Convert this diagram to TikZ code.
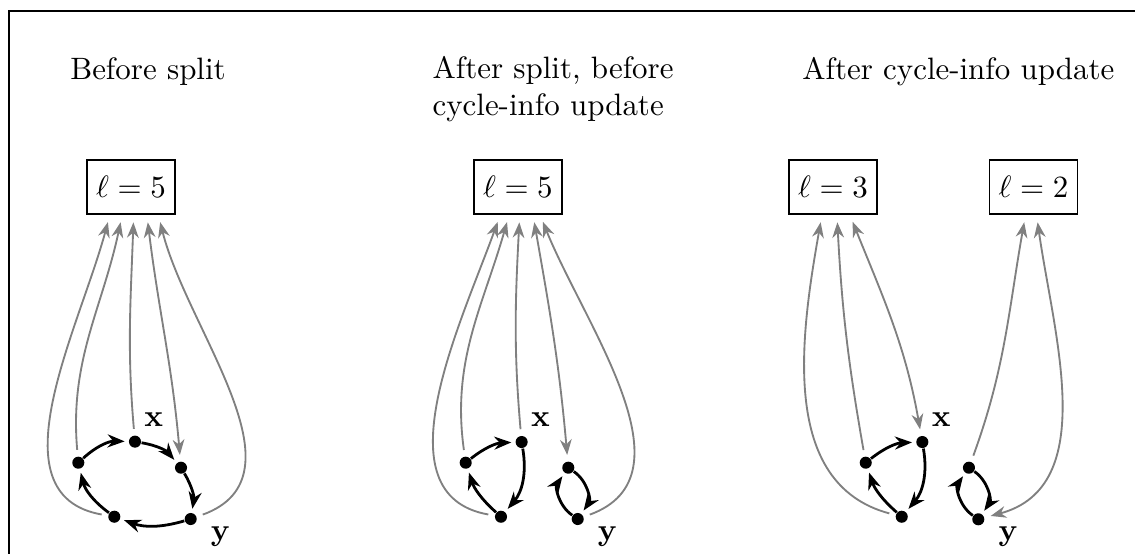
\documentclass[tikz,border=0pt]{standalone}
\usepackage{amsmath,amssymb}
\usetikzlibrary{arrows.meta,positioning}

\begin{document}
\begin{tikzpicture}[
  lenbox/.style={draw, line width=0.5pt, minimum width=1cm, minimum height=0.61cm,
    inner sep=0pt},
  dot/.style={circle, fill, inner sep=0pt, minimum size=3.9pt},
  cyc/.style={-{Stealth[length=5.5pt,width=4.2pt]}, line width=0.9pt, shorten >=1.2pt},
  ptr/.style={-{Stealth[length=5pt,width=3.8pt]}, semithick, draw=gray,
    shorten >=2.5pt, shorten <=2pt},
  both/.style={{Stealth[length=5pt,width=3.8pt]}-{Stealth[length=5pt,width=3.8pt]}},
  title/.style={inner sep=0pt, align=left}
]
  \useasboundingbox (0,0) rectangle (12.898,-6.295);
  \draw[line width=0.8pt] (0.102,-6.295) -- (0.102,-0.125) -- (12.898,-0.125);

  % headings
  \node[title] (t1) at (1.682,-0.818) {Before split};
  \node[title, anchor=west] (t2) at (4.909,-1.017) {After split, before\\cycle-info update};
  \node[title, anchor=east] (t3) at (12.67,-0.818) {After cycle-info update};

  % cycle length boxes
  \node[lenbox] (len1) at (1.489,-2.125) {$\ell = 5$};
  \node[lenbox] (len2) at (5.886,-2.125) {$\ell = 5$};
  \node[lenbox] (len3) at (9.466,-2.125) {$\ell = 3$};
  \node[lenbox] (len4) at (11.744,-2.125) {$\ell = 2$};

  % before split
  \node[dot] (v1a) at (0.890,-5.258) {};
  \node[dot] (x1)  at (1.534,-5.019) {};
  \node[dot] (v1b) at (2.057,-5.315) {};
  \node[dot] (y1)  at (2.167,-5.898) {};
  \node[dot] (v1c) at (1.299,-5.872) {};
  \node[above right=0pt and -2pt of x1] (x1l) {$\mathbf{x}$};
  \node[below right=-2.5pt and 1.5pt of y1] (y1l) {$\mathbf{y}$};

  \draw[cyc] (v1a) to[bend left=22] (x1);
  \draw[cyc] (x1) to[bend left=20] (v1b);
  \draw[cyc] (v1b) to[bend left=20] (y1);
  \draw[cyc] (y1) to[bend left=18] (v1c);
  \draw[cyc] (v1c) to[bend left=20] (v1a);

  \draw[ptr] (v1c) to[out=170, in=-105] ([xshift=-0.24cm]len1.south);
  \draw[ptr] (v1a) to[out=95, in=-102] ([xshift=-0.10cm]len1.south);
  \draw[ptr] (x1) to[out=95, in=-92] ([xshift=0.03cm]len1.south);
  \draw[ptr, both] (v1b) to[out=95, in=-83] ([xshift=0.18cm]len1.south);
  \draw[ptr] (y1) to[out=20, in=-76] ([xshift=0.31cm]len1.south);

  % after split
  \node[dot] (v2a) at (5.292,-5.258) {};
  \node[dot] (x2)  at (5.928,-5.023) {};
  \node[dot] (v2c) at (5.693,-5.872) {};
  \node[dot] (v2b) at (6.458,-5.315) {};
  \node[dot] (y2)  at (6.565,-5.898) {};
  \node[above right=0pt and -2pt of x2] (x2l) {$\mathbf{x}$};
  \node[below right=-2.5pt and 1.5pt of y2] (y2l) {$\mathbf{y}$};

  \draw[cyc] (v2a) to[bend left=18] (x2);
  \draw[cyc] (x2) to[bend left=25] (v2c);
  \draw[cyc] (v2c) to[bend left=15] (v2a);
  \draw[cyc] (v2b) to[bend left=45] (y2);
  \draw[cyc] (y2) to[bend left=45] (v2b);

  \draw[ptr] (v2c) to[out=170, in=-110] ([xshift=-0.20cm]len2.south);
  \draw[ptr] (v2a) to[out=98, in=-106] ([xshift=-0.10cm]len2.south);
  \draw[ptr] (x2) to[out=95, in=-93] ([xshift=0.02cm]len2.south);
  \draw[ptr, both] (v2b) to[out=95, in=-80] ([xshift=0.17cm]len2.south);
  \draw[ptr] (y2) to[out=20, in=-68] ([xshift=0.25cm]len2.south);

  % after cycle-info update
  \node[dot] (v3a) at (9.838,-5.258) {};
  \node[dot] (x3)  at (10.481,-5.023) {};
  \node[dot] (v3c) at (10.247,-5.872) {};
  \node[dot] (v3b) at (11.011,-5.315) {};
  \node[dot] (y3)  at (11.117,-5.901) {};
  \node[above right=0pt and -2pt of x3] (x3l) {$\mathbf{x}$};
  \node[below right=-2.5pt and 1.5pt of y3] (y3l) {$\mathbf{y}$};

  \draw[cyc] (v3a) to[bend left=18] (x3);
  \draw[cyc] (x3) to[bend left=25] (v3c);
  \draw[cyc] (v3c) to[bend left=15] (v3a);
  \draw[cyc] (v3b) to[bend left=45] (y3);
  \draw[cyc] (y3) to[bend left=45] (v3b);

  \draw[ptr] (v3c) to[out=165, in=-100] ([xshift=-0.125cm]len3.south);
  \draw[ptr] (v3a) to[out=100, in=-87] ([xshift=0.045cm]len3.south);
  \draw[ptr, both] (x3) to[out=100, in=-68] ([xshift=0.19cm]len3.south);
  \draw[ptr] (v3b) to[out=70, in=-100] ([xshift=-0.09cm]len4.south);
  \draw[ptr, both] (y3) to[out=15, in=-82] ([xshift=0.035cm]len4.south);
\end{tikzpicture}
\end{document}
